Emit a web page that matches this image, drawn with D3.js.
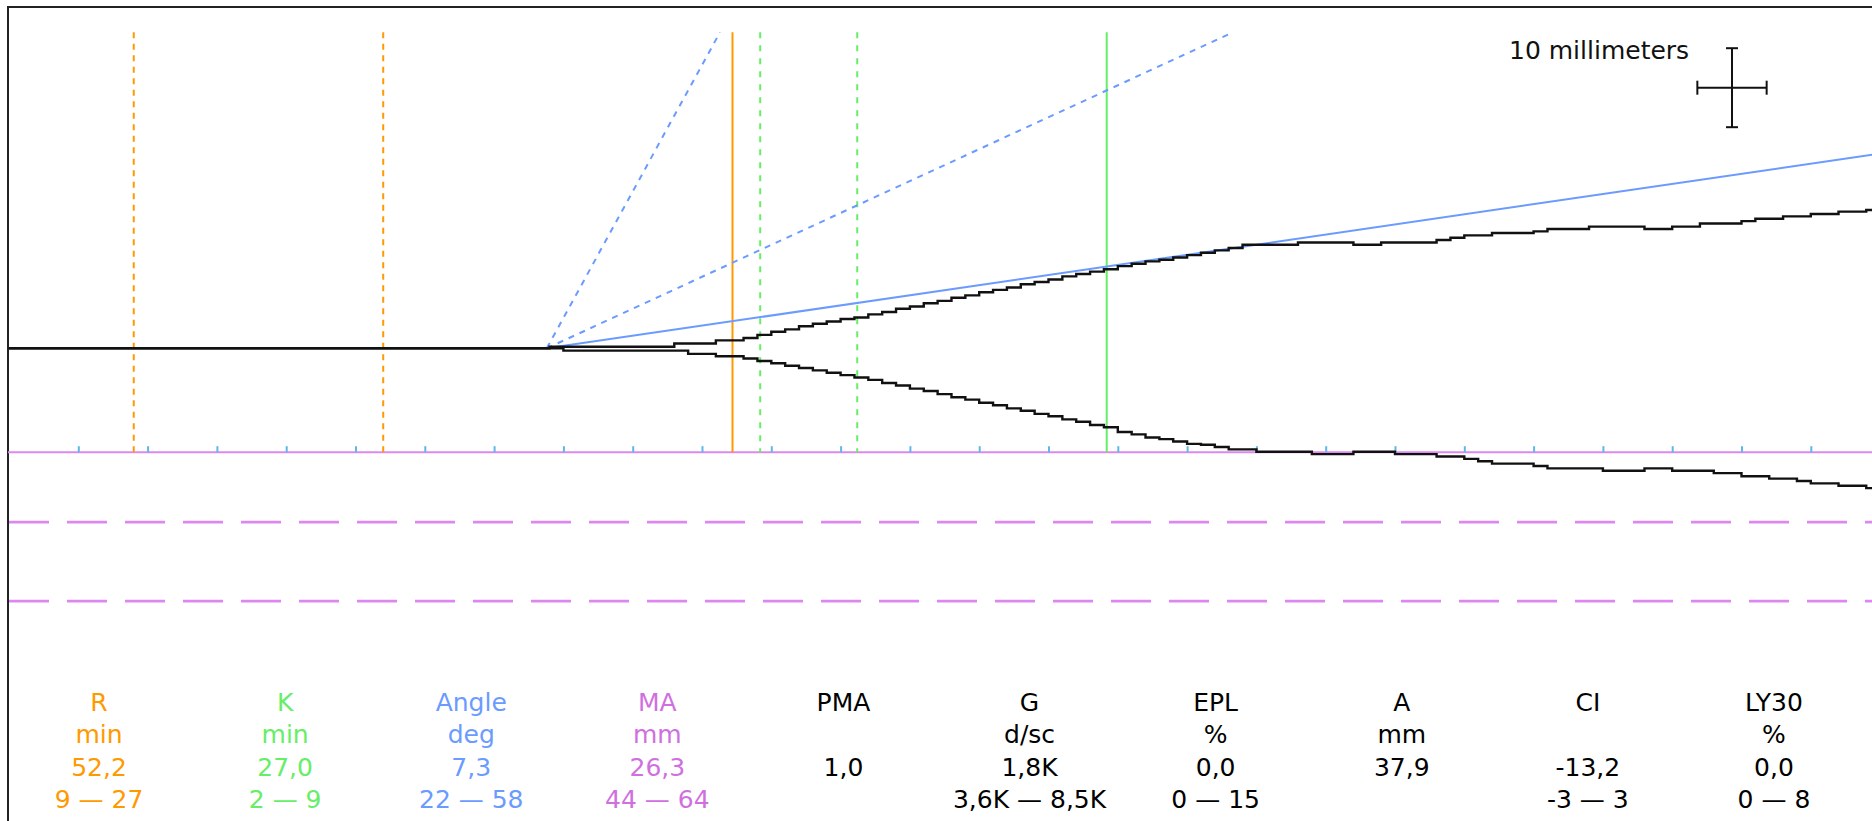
<!DOCTYPE html>
<html>
<head>
<meta charset="utf-8">
<script src="https://cdn.jsdelivr.net/npm/d3@7"></script>
<style>
  html, body { margin: 0; padding: 0; background: #fff; overflow: hidden; }
  svg { display: block; }
  text { font-family: "DejaVu Sans", sans-serif; }
</style>
</head>
<body>
<svg id="chart" width="1872" height="821"></svg>
<script>
// Thromboelastography tracing: clot amplitude (mm) against time (min)

// Parameter table shown under the tracing
const paramNames  = ["R", "K", "Angle", "MA", "PMA", "G", "EPL", "A", "CI", "LY30"];
const paramUnits  = ["min", "min", "deg", "mm", "", "d/sc", "%", "mm", "", "%"];
const paramValues = ["52,2", "27,0", "7,3", "26,3", "1,0", "1,8K", "0,0", "37,9", "-13,2", "0,0"];
const paramRanges = ["9 — 27", "2 — 9", "22 — 58", "44 — 64", "", "3,6K — 8,5K", "0 — 15", "", "-3 — 3", "0 — 8"];

// Measured parameters and their normal ranges
const rTime = 52.2;          // min
const kTime = 27.0;          // min
const angleDeg = 7.3;        // deg
const maMm = 26.3;           // mm
const rRange = [9, 27];      // min
const kRange = [2, 9];       // min after R
const angleRange = [22, 58]; // deg
const maRange = [44, 64];    // mm

const clotOnset = 38.8;      // min, where the trace starts to open
const chartSpeed = 2;        // mm of paper per minute

// Upper and lower deflection of the trace (mm), one sample per minute from traceStart
const traceStart = 38;
const upperMm = [
  0, 0.2, 0.2, 0.2, 0.2, 0.2, 0.2, 0.2, 0.2, 0.2,
  0.6, 0.6, 0.6, 1.0, 1.0, 1.3, 1.7, 2.1, 2.4, 2.8,
  3.1, 3.4, 3.7, 3.9, 4.3, 4.6, 5.0, 5.3, 5.7, 6.0,
  6.4, 6.7, 7.1, 7.4, 7.7, 8.1, 8.4, 8.7, 9.1, 9.4,
  9.7, 10.0, 10.4, 10.7, 11.0, 11.2, 11.5, 11.8, 12.1, 12.4,
  12.7, 13.1, 13.1, 13.1, 13.1, 13.4, 13.4, 13.4, 13.4, 13.1,
  13.1, 13.4, 13.4, 13.4, 13.4, 13.7, 14.0, 14.3, 14.3, 14.6,
  14.6, 14.6, 14.8, 15.1, 15.1, 15.1, 15.4, 15.4, 15.4, 15.4,
  15.1, 15.1, 15.4, 15.4, 15.8, 15.8, 15.8, 16.1, 16.4, 16.4,
  16.7, 16.7, 17.0, 17.0, 17.3, 17.3, 17.5, 17.5
];
const lowerMm = [
  0, 0, 0.3, 0.3, 0.3, 0.3, 0.3, 0.3, 0.3, 0.3,
  0.3, 0.7, 0.7, 1.0, 1.0, 1.3, 1.6, 1.9, 2.2, 2.5,
  2.8, 3.1, 3.4, 3.7, 4.0, 4.4, 4.7, 5.1, 5.4, 5.8,
  6.2, 6.5, 6.9, 7.2, 7.6, 7.9, 8.3, 8.6, 9.0, 9.3,
  9.7, 10.0, 10.6, 10.9, 11.3, 11.5, 11.8, 12.1, 12.2, 12.5,
  12.8, 12.8, 13.1, 13.1, 13.1, 13.1, 13.4, 13.4, 13.4, 13.1,
  13.1, 13.1, 13.4, 13.4, 13.4, 13.7, 13.7, 14.0, 14.3, 14.6,
  14.6, 14.6, 14.9, 15.2, 15.2, 15.2, 15.2, 15.5, 15.5, 15.5,
  15.2, 15.2, 15.5, 15.5, 15.5, 15.8, 15.8, 16.2, 16.2, 16.5,
  16.5, 16.8, 17.1, 17.1, 17.4, 17.4, 17.7, 17.7
];

// Time ticks every 5 minutes
const timeTicks = [5, 10, 15, 20, 25, 30, 35, 40, 45, 50, 55, 60, 65, 70, 75, 80, 85, 90,
                   95, 100, 105, 110, 115, 120, 125, 130];

const COL = {
  orange: "#FF9900",
  green: "#66EE66",
  blue: "#6B9BFF",
  violet: "#DD88EE",
  violetText: "#D070E0",
  tick: "#5BB8EE",
  ink: "#111111"
};
const paramColors = [COL.orange, COL.green, COL.blue, COL.violetText, "#000", "#000", "#000", "#000", "#000", "#000"];

const svg = d3.select("#chart");
const W = 1872, H = 821;

// Scales: minutes -> x, millimetres of deflection -> y (positive up)
const x = d3.scaleLinear().domain([0, 135]).range([9, 9 + 135 * 13.86]);
const y = d3.scaleLinear().domain([0, 40]).range([348.3, 348.3 - 40 * 7.9]);

const frameLeft = 8, frameTop = 7;
const plotTop = y(40);
const maLineY = y(-maMm / 2);

// Frame (continues past the right and bottom edges)
svg.append("rect")
  .attr("x", frameLeft).attr("y", frameTop)
  .attr("width", W + 50).attr("height", H + 50)
  .attr("fill", "none").attr("stroke", "#222").attr("stroke-width", 2);

const g = svg.append("g");

// MA level and MA normal range (half amplitude below the baseline)
g.append("line")
  .attr("x1", frameLeft).attr("x2", W)
  .attr("y1", maLineY).attr("y2", maLineY)
  .attr("stroke", COL.violet).attr("stroke-width", 2);

g.selectAll("line.ma-range").data(maRange).join("line")
  .attr("class", "ma-range")
  .attr("x1", frameLeft + 1).attr("x2", W)
  .attr("y1", d => y(-d / 2)).attr("y2", d => y(-d / 2))
  .attr("stroke", COL.violet).attr("stroke-width", 2.6)
  .attr("stroke-dasharray", "40,18");

// Time axis ticks sitting on the MA line
const axis = d3.axisTop(x).tickValues(timeTicks).tickSize(6).tickFormat("");
const axisG = g.append("g").attr("transform", `translate(0,${maLineY})`).call(axis);
axisG.select(".domain").remove();
axisG.selectAll(".tick line").attr("stroke", COL.tick).attr("stroke-width", 2);

// Vertical markers: R range, R, K range, K
const vLines = [
  ...rRange.map(t => ({ t, color: COL.orange, dash: "6,5.5" })),
  { t: rTime, color: COL.orange, dash: null },
  ...kRange.map(k => ({ t: rTime + k, color: COL.green, dash: "6,7" })),
  { t: rTime + kTime, color: COL.green, dash: null }
];
g.selectAll("line.marker").data(vLines).join("line")
  .attr("class", "marker")
  .attr("x1", d => x(d.t)).attr("x2", d => x(d.t))
  .attr("y1", plotTop).attr("y2", maLineY)
  .attr("stroke", d => d.color).attr("stroke-width", 2)
  .attr("stroke-dasharray", d => d.dash);

// Angle lines from the clot onset (paper runs at chartSpeed mm/min)
function angleEnd(deg) {
  const slope = Math.tan(deg * Math.PI / 180) * chartSpeed; // mm per minute
  let t1 = x.domain()[1];
  let a1 = (t1 - clotOnset) * slope;
  if (a1 > 40) { a1 = 40; t1 = clotOnset + 40 / slope; }
  return { t1, a1 };
}
const angleLines = [
  ...angleRange.map(d => ({ deg: d, dash: "6,6" })),
  { deg: angleDeg, dash: null }
];
g.selectAll("line.angle").data(angleLines).join("line")
  .attr("class", "angle")
  .attr("x1", x(clotOnset)).attr("y1", y(0))
  .attr("x2", d => x(angleEnd(d.deg).t1))
  .attr("y2", d => y(angleEnd(d.deg).a1))
  .attr("stroke", COL.blue).attr("stroke-width", 2)
  .attr("stroke-dasharray", d => d.dash);

// Trace: upper and lower branches
const upperPts = [{ t: 0, v: 0 }, ...upperMm.map((v, i) => ({ t: traceStart + i, v }))];
const lowerPts = [{ t: 0, v: 0 }, ...lowerMm.map((v, i) => ({ t: traceStart + i, v: -v }))];
const trace = d3.line().x(d => x(d.t)).y(d => y(d.v)).curve(d3.curveStepAfter);
g.selectAll("path.trace").data([upperPts, lowerPts]).join("path")
  .attr("class", "trace")
  .attr("d", trace)
  .attr("fill", "none").attr("stroke", COL.ink).attr("stroke-width", 2.4);

// 10 mm scale cross
const cx = 1732, cy = 87.7;
const halfV = (y(0) - y(10)) / 2;
const halfH = (x(5) - x(0)) / 2;
const sc = svg.append("g").attr("stroke", "#111").attr("stroke-width", 2);
sc.append("line").attr("x1", cx).attr("x2", cx).attr("y1", cy - halfV).attr("y2", cy + halfV);
sc.append("line").attr("x1", cx - halfH).attr("x2", cx + halfH).attr("y1", cy).attr("y2", cy);
sc.append("line").attr("x1", cx - 6).attr("x2", cx + 6).attr("y1", cy - halfV).attr("y2", cy - halfV);
sc.append("line").attr("x1", cx - 6).attr("x2", cx + 6).attr("y1", cy + halfV).attr("y2", cy + halfV);
sc.append("line").attr("x1", cx - halfH).attr("x2", cx - halfH).attr("y1", cy - 7).attr("y2", cy + 7);
sc.append("line").attr("x1", cx + halfH).attr("x2", cx + halfH).attr("y1", cy - 7).attr("y2", cy + 7);
svg.append("text")
  .attr("x", 1509).attr("y", 59)
  .attr("font-size", 25).attr("fill", "#111")
  .text("10 millimeters");

// Parameter table
const col = d3.scaleBand().domain(paramNames).range([6, 1867]);
const rows = [paramNames, paramUnits, paramValues, paramRanges];
const rowY = [711, 743, 776, 808];
const table = svg.append("g").attr("font-size", 25).attr("text-anchor", "middle");
rows.forEach((row, r) => {
  table.selectAll(`text.row${r}`).data(row).join("text")
    .attr("class", `row${r}`)
    .attr("x", (d, i) => col(paramNames[i]) + col.bandwidth() / 2)
    .attr("y", rowY[r])
    .attr("fill", (d, i) => paramColors[i])
    .text(d => d);
});
</script>
</body>
</html>
